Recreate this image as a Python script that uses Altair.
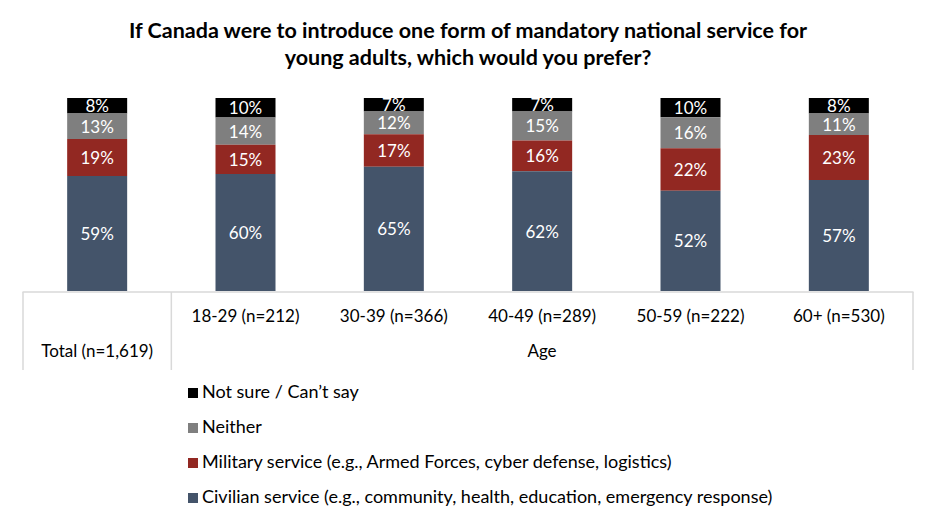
import altair as alt
import pandas as pd

FONT = "Lato"

title_lines = [
    "If Canada were to introduce one form of mandatory national service for",
    "young adults, which would you prefer?",
]
groups = [
    "Total (n=1,619)",
    "18-29 (n=212)",
    "30-39 (n=366)",
    "40-49 (n=289)",
    "50-59 (n=222)",
    "60+ (n=530)",
]
group_header = "Age"

# legend order, top to bottom
responses = [
    "Not sure / Can’t say",
    "Neither",
    "Military service (e.g., Armed Forces, cyber defense, logistics)",
    "Civilian service (e.g., community, health, education, emergency response)",
]
colors = ["#000000", "#7F7F7F", "#922822", "#44546A"]

civilian = [59, 60, 65, 62, 52, 57]
military = [19, 15, 17, 16, 22, 23]
neither = [13, 14, 12, 15, 16, 11]
not_sure = [8, 10, 7, 7, 10, 8]

series = [not_sure, neither, military, civilian]

rows = []
for r_idx, (resp, vals) in enumerate(zip(responses, series)):
    for g, v in zip(groups, vals):
        # civilian stacks at the bottom, "not sure" at the top
        rows.append({"group": g, "response": resp, "value": v,
                     "rank": len(responses) - 1 - r_idx, "label": f"{v}%"})
df = pd.DataFrame(rows)

W, H = 890, 193
x_enc = alt.X("group:N", sort=groups, axis=None,
              scale=alt.Scale(paddingInner=0, paddingOuter=0))

base = alt.Chart(df).transform_stack(
    stack="value", groupby=["group"], as_=["y0", "y1"],
    offset="normalize", sort=[alt.SortField("rank", order="ascending")],
).transform_calculate(mid="(datum.y0 + datum.y1) / 2")

bars = base.mark_bar(width=60).encode(
    x=x_enc,
    y=alt.Y("y0:Q", scale=alt.Scale(domain=[0, 1]), axis=None),
    y2="y1:Q",
    color=alt.Color(
        "response:N",
        scale=alt.Scale(domain=responses, range=colors),
        legend=alt.Legend(
            title=None, orient="none", legendX=161, legendY=286,
            direction="vertical", symbolType="square", symbolSize=100,
            symbolStrokeWidth=0, labelFontSize=18, labelFont=FONT,
            labelColor="#000000", rowPadding=17, padding=0,
            labelOffset=0, labelLimit=0,
        ),
    ),
)

values = base.mark_text(color="white", font=FONT, fontSize=17,
                        baseline="middle", dy=1.5).encode(
    x=x_enc,
    y=alt.Y("mid:Q", scale=alt.Scale(domain=[0, 1]), axis=None),
    text="label:N",
)

gdf = pd.DataFrame({"group": groups})
age_labels = alt.Chart(gdf).transform_filter(
    alt.datum.group != groups[0]
).mark_text(font=FONT, fontSize=17, color="#000000", baseline="middle").encode(
    x=x_enc, y=alt.value(219), text="group:N",
)
total_label = alt.Chart(gdf).transform_filter(
    alt.datum.group == groups[0]
).mark_text(font=FONT, fontSize=17, color="#000000", baseline="middle").encode(
    x=x_enc, y=alt.value(254), text="group:N",
)
header = alt.Chart(pd.DataFrame({"t": [group_header]})).mark_text(
    font=FONT, fontSize=17, color="#000000", baseline="middle"
).encode(x=alt.value(519), y=alt.value(254), text="t:N")

grid_color = "#D9D9D9"
hline = alt.Chart(pd.DataFrame({"k": [0]})).mark_rule(
    color=grid_color, strokeWidth=1.5
).encode(x=alt.value(-0.5), x2=alt.value(W + 0.5), y=alt.value(194))
vlines = alt.Chart(pd.DataFrame({"k": [0]})).mark_rule(
    color=grid_color, strokeWidth=1.5
)
vl_left = vlines.encode(x=alt.value(0), y=alt.value(194), y2=alt.value(272))
vl_mid = vlines.encode(x=alt.value(W / 6), y=alt.value(194), y2=alt.value(272))
vl_right = vlines.encode(x=alt.value(W), y=alt.value(194), y2=alt.value(272))

title = alt.Chart(pd.DataFrame({"t": ["\n".join(title_lines)]})).mark_text(
    font=FONT, fontSize=21.5, fontWeight="bold", color="#000000",
    lineBreak="\n", lineHeight=27, baseline="alphabetic", align="center",
).encode(x=alt.value(W / 2), y=alt.value(-60), text="t:N")

chart = alt.layer(
    hline, vl_left, vl_mid, vl_right, bars, values,
    age_labels, total_label, header, title,
).properties(
    width=W, height=H,
    autosize=alt.AutoSizeParams(type="none"),
    padding={"left": 23, "top": 98, "right": 23, "bottom": 234},
).configure(background="white", view={"stroke": None})

chart.save("out.html", embed_options={"renderer": "svg", "actions": False})
